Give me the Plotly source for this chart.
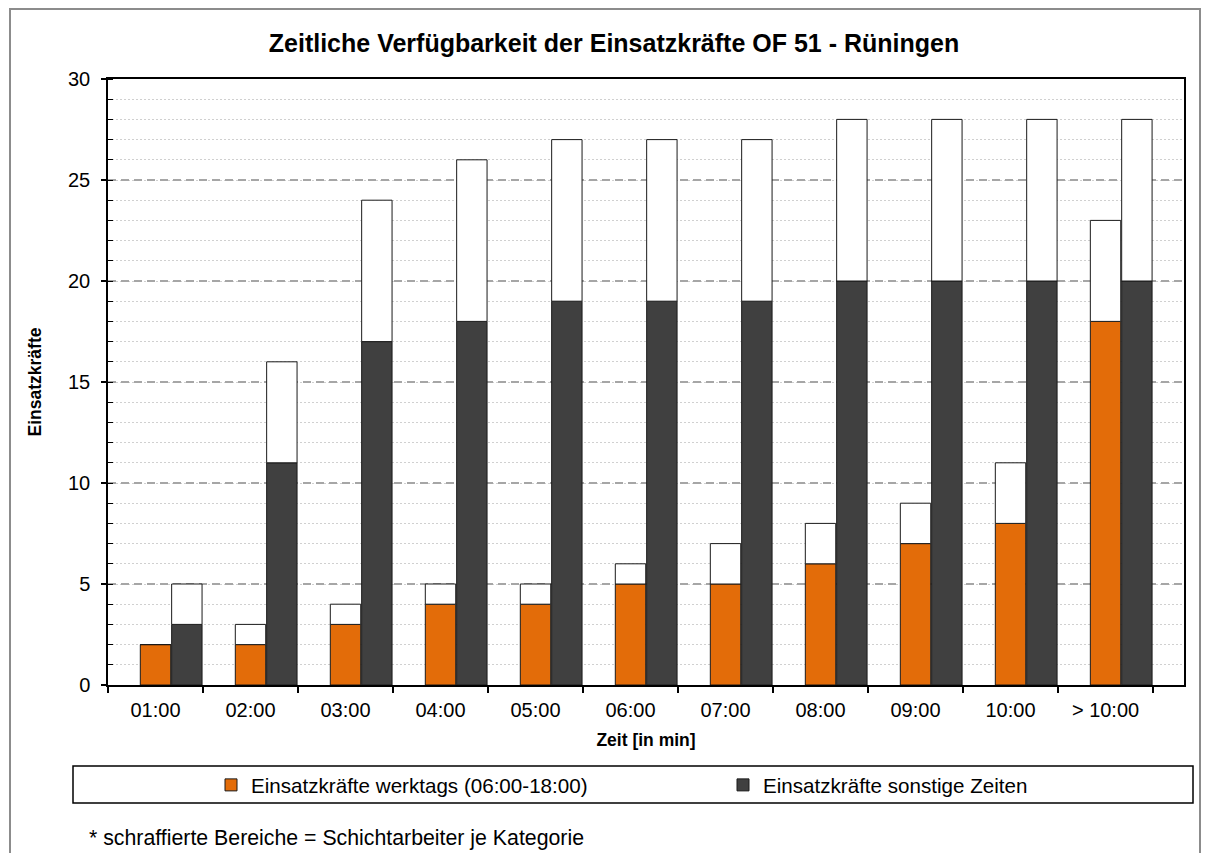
import plotly.graph_objects as go

categories = ["01:00", "02:00", "03:00", "04:00", "05:00", "06:00", "07:00", "08:00", "09:00", "10:00", "> 10:00"]
werktags = [2, 2, 3, 4, 4, 5, 5, 6, 7, 8, 18]
werktags_schicht = [0, 1, 1, 1, 1, 1, 2, 2, 2, 3, 5]
sonstige = [3, 11, 17, 18, 19, 19, 19, 20, 20, 20, 20]
sonstige_schicht = [2, 5, 7, 8, 8, 8, 8, 8, 8, 8, 8]

ORANGE = "#E36C09"
DARK = "#404040"
FONT = "Liberation Sans, Arial, sans-serif"
BW = 0.32

fig = go.Figure()
line = dict(color="#1a1a1a", width=1)

fig.add_trace(go.Bar(x=categories, y=werktags, base=[0] * len(werktags), width=BW, offset=-0.16,
                     marker=dict(color=ORANGE, line=line), name="Einsatzkräfte werktags (06:00-18:00)",
                     legend="legend"))
fig.add_trace(go.Bar(x=categories, y=werktags_schicht, base=werktags, width=BW, offset=-0.16,
                     marker=dict(color="white", line=line), showlegend=False))
fig.add_trace(go.Bar(x=categories, y=sonstige, base=[0] * len(sonstige), width=BW, offset=0.17,
                     marker=dict(color=DARK, line=line), name="Einsatzkräfte sonstige Zeiten",
                     legend="legend2"))
fig.add_trace(go.Bar(x=categories, y=sonstige_schicht, base=sonstige, width=BW, offset=0.17,
                     marker=dict(color="white", line=line), showlegend=False))

# page body has an 8px margin; figure is sized to fit inside the window
OFF = 8
W, H = 1210 - 2 * OFF, 861 - 2 * OFF
L, T = 108 - OFF, 79 - OFF
R = W - (1184 - OFF)
B = H - (685 - OFF)
pw, ph = W - L - R, H - T - B


def px(x):
    return (x - OFF - L) / pw


def py(y):
    return (H - B - (y - OFF)) / ph


fig.update_layout(
    width=W, height=H,
    margin=dict(l=L, r=R, t=T, b=B),
    paper_bgcolor="white", plot_bgcolor="white",
    barmode="overlay",
    font=dict(family=FONT, color="black", size=20),
    title=dict(text="Zeitliche Verfügbarkeit der Einsatzkräfte OF 51 - Rüningen",
               font=dict(family=FONT, size=25, weight="bold", color="black"),
               x=(614 - OFF) / W, xanchor="center", y=1 - (43 - OFF) / H, yanchor="middle"),
    xaxis=dict(type="category", range=[-0.5, 10.826], tickson="boundaries",
               ticks="outside", ticklen=6, tickwidth=1.5, tickcolor="black",
               showline=True, linecolor="black", linewidth=1.5, mirror=True,
               showgrid=False, tickfont=dict(size=20), ticklabelstandoff=6,
               title=dict(text="Zeit [in min]", font=dict(size=17.5, weight="bold"), standoff=14)),
    yaxis=dict(range=[0, 30], tickmode="linear", tick0=0, dtick=5,
               ticks="outside", ticklen=5, tickwidth=1.5, tickcolor="black",
               showline=True, linecolor="black", linewidth=1.5, mirror=True,
               showgrid=True, gridcolor="#A6A6A6", gridwidth=1.5, griddash="8px,5px",
               zeroline=False, tickfont=dict(size=20), ticklabelstandoff=7,
               minor=dict(dtick=1, ticks="inside", ticklen=5, tickwidth=1.2, tickcolor="black",
                          showgrid=True, gridcolor="#D0D0D0", gridwidth=1, griddash="2px,2px"),
               title=dict(text="Einsatzkräfte", font=dict(size=17.5, weight="bold"), standoff=22)),
    legend=dict(orientation="h", x=px(211), xanchor="left", y=py(785), yanchor="middle",
                font=dict(size=20.6), bgcolor="rgba(0,0,0,0)", borderwidth=0),
    legend2=dict(orientation="h", x=px(723), xanchor="left", y=py(785), yanchor="middle",
                 font=dict(size=20.6), bgcolor="rgba(0,0,0,0)", borderwidth=0),
    shapes=[
        dict(type="rect", xref="paper", yref="paper", x0=px(73), x1=px(1193), y0=py(803), y1=py(766),
             line=dict(color="black", width=1.5), fillcolor="rgba(0,0,0,0)", layer="below"),
        dict(type="rect", xref="paper", yref="paper", x0=px(10), x1=px(1200), y0=py(875), y1=py(9),
             line=dict(color="#8C8C8C", width=2), fillcolor="rgba(0,0,0,0)", layer="below"),
    ],
    annotations=[
        dict(text="* schraffierte Bereiche = Schichtarbeiter je Kategorie", xref="paper", yref="paper",
             x=px(87), y=py(838), xanchor="left", yanchor="middle", showarrow=False,
             font=dict(size=21.3, family=FONT, color="black")),
    ],
)

fig.write_html("out.html")
